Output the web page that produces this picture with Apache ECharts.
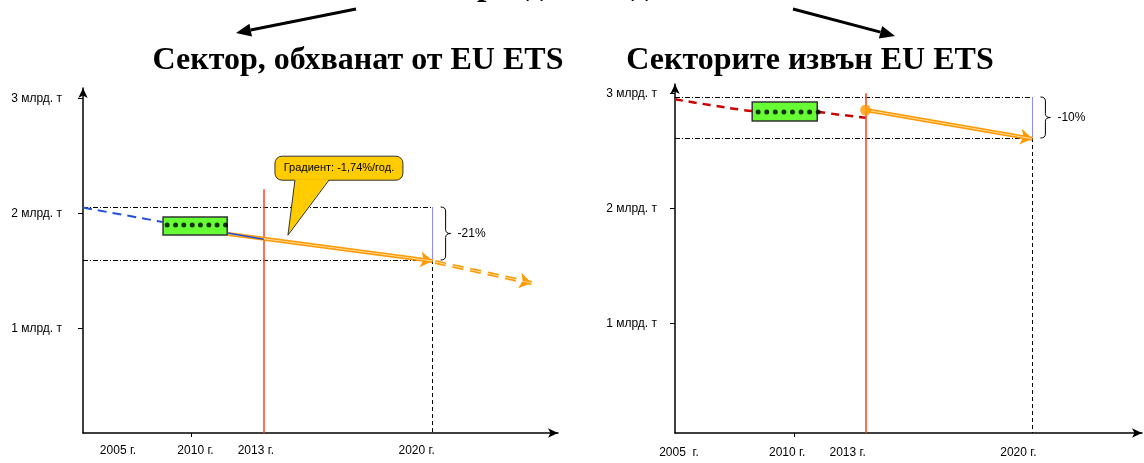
<!DOCTYPE html>
<html>
<head>
<meta charset="utf-8">
<script src="https://cdn.jsdelivr.net/npm/echarts@6/dist/echarts.min.js"></script>
<style>
  html, body { margin: 0; padding: 0; background: #fff; }
  #chart { width: 1144px; height: 463px; }
</style>
</head>
<body>
<div id="chart"></div>
<script>
// ---- данни: сектор EU ETS (ляво), млрд. т / години
const etsHistory = [[2005.5, 2.05], [2008.8, 1.925]];
const etsAfterBox = [[2011.48, 1.83], [2013, 1.775]];
const etsTarget = [[2011.52, 1.82], [2020, 1.586]];
const etsTrend = [[2020.1, 1.577], [2024.1, 1.394]];
const etsBox = [2008.82, 2011.48, 1.968, 1.812];
const etsDots = [2008.99, 2009.34, 2009.68, 2010.03, 2010.37, 2010.72, 2011.06, 2011.41];
const etsDotLevel = 1.899;
const etsLevels = [2.055, 1.594];      // ниво 2005 / цел 2020
const etsRedTop = 2.21;
const etsChange = '-21%';
const etsGradient = 'Градиент: -1,74%/год.';
const etsCallout = [2014, 1.81];

// ---- данни: сектори извън EU ETS (дясно)
const nonEtsHistory = [[2005, 2.947], [2006.47, 2.897], [2007.86, 2.854], [2008.24, 2.845]];
const nonEtsAfterBox = [[2010.97, 2.839], [2011.81, 2.816], [2013, 2.787]];
const nonEtsStart = [2013, 2.854];
const nonEtsTarget = [[2013, 2.854], [2020, 2.605]];
const nonEtsBox = [2008.24, 2010.97, 2.923, 2.758];
const nonEtsDots = [2008.49, 2008.85, 2009.21, 2009.57, 2009.93, 2010.29, 2010.65, 2011.01];
const nonEtsDotLevel = 2.836;
const nonEtsLevels = [2.967, 2.611];
const nonEtsRedTop = 3.0;
const nonEtsChange = '-10%';

// ---- оси
const valueTicks = [1, 2, 3];
const tickYears = [2010];
const etsYears = [2005.5, 2010, 2013, 2020];
const etsYearLabels = ['2005 г.', '2010 г.', '2013 г.', '2020 г.'];
const nonEtsYears = [2005, 2010, 2013, 2020];
const nonEtsYearLabels = ['2005  г.', '2010 г.', '2013 г.', '2020 г.'];

const titles = ['Сектор, обхванат от EU ETS', 'Секторите извън EU ETS'];
const topLead = 'Намалението се ';
const topText = topLead + 'разделя в два';

const chart = echarts.init(document.getElementById('chart'));

const SANS = '"Liberation Sans", Arial, sans-serif';
const SERIF = '"Liberation Serif", "Times New Roman", serif';
const ORANGE = '#ff9900';

// label shifts (px) so the year text sits where the slide had it
const etsShift = [35, 4, -8, -16];
const nonEtsShift = [4, -7, -18, -14];

function richShift(shifts) {
  const r = {};
  shifts.forEach((d, i) => {
    r['s' + i] = { fontSize: 12, fontFamily: SANS, color: '#000',
      padding: d >= 0 ? [0, 0, 0, 2 * d] : [0, -2 * d, 0, 0] };
  });
  return r;
}

function xAxisFor(grid, min, max, years, labels, shifts, margin) {
  return {
    gridIndex: grid, type: 'value', min: min, max: max,
    splitLine: { show: false },
    axisLine: { onZero: false, lineStyle: { color: '#000', width: 1.5 },
      symbol: ['none', 'arrow'], symbolSize: [7, 10] },
    axisTick: { customValues: tickYears, length: 4, lineStyle: { color: '#000' } },
    axisLabel: {
      customValues: years, margin: margin,
      formatter: v => {
        const i = years.findIndex(y => Math.abs(y - v) < 1e-6);
        return i < 0 ? '' : '{s' + i + '|' + labels[i] + '}';
      },
      rich: richShift(shifts)
    }
  };
}

function yAxisFor(grid, min, max, margin) {
  return {
    gridIndex: grid, type: 'value', min: min, max: max,
    splitLine: { show: false },
    axisLine: { onZero: false, lineStyle: { color: '#000', width: 1.5 },
      symbol: ['none', 'arrow'], symbolSize: [7, 10] },
    axisTick: { customValues: valueTicks, length: 5, lineStyle: { color: '#000' } },
    axisLabel: { customValues: valueTicks, margin: margin, color: '#000',
      fontSize: 12, fontFamily: SANS, formatter: v => v + ' млрд. т' }
  };
}

function boxSeries(i, box) {
  return {
    type: 'custom', xAxisIndex: i, yAxisIndex: i, z: 5, silent: true,
    data: [box],
    renderItem: (params, api) => {
      const p0 = api.coord([api.value(0), api.value(2)]);
      const p1 = api.coord([api.value(1), api.value(3)]);
      return { type: 'rect',
        shape: { x: p0[0], y: p0[1], width: p1[0] - p0[0], height: p1[1] - p0[1] },
        style: { fill: '#66ff33', stroke: '#333', lineWidth: 1.5 } };
    }
  };
}

function dotsSeries(i, xs, level) {
  return { type: 'scatter', xAxisIndex: i, yAxisIndex: i, z: 6, silent: true,
    symbolSize: 5, itemStyle: { color: '#000' },
    data: xs.map(x => [x, level]) };
}

function braceSeries(i, year, levels, text) {
  return {
    type: 'custom', xAxisIndex: i, yAxisIndex: i, z: 4, silent: true,
    data: [[year, levels[0], levels[1]]],
    renderItem: (params, api) => {
      const a = api.coord([api.value(0), api.value(1)]);
      const b = api.coord([api.value(0), api.value(2)]);
      const x0 = a[0] + 8, y0 = a[1], y1 = b[1], ym = (y0 + y1) / 2, w = 5;
      const d = `M${x0},${y0} Q${x0 + w},${y0} ${x0 + w},${y0 + 4} L${x0 + w},${ym - 4} ` +
        `Q${x0 + w},${ym} ${x0 + 2 * w},${ym} Q${x0 + w},${ym} ${x0 + w},${ym + 4} ` +
        `L${x0 + w},${y1 - 4} Q${x0 + w},${y1} ${x0},${y1}`;
      return { type: 'group', children: [
        { type: 'path', shape: { pathData: d }, style: { stroke: '#000', fill: null, lineWidth: 1 } },
        { type: 'text', x: x0 + 2 * w + 7, y: ym,
          style: { text: text, fill: '#000', font: '12px ' + SANS, verticalAlign: 'middle' } }
      ] };
    }
  };
}

function guideLines(i, xmin, ymin, levels, redTop) {
  return [
    { type: 'lines', coordinateSystem: 'cartesian2d', xAxisIndex: i, yAxisIndex: i,
      z: 2, silent: true, symbol: 'none',
      lineStyle: { color: '#000', width: 1, opacity: 1, type: [5, 2, 1, 2] },
      data: [{ coords: [[xmin, levels[0]], [2020, levels[0]]] },
             { coords: [[xmin, levels[1]], [2020, levels[1]]] }] },
    { type: 'lines', coordinateSystem: 'cartesian2d', xAxisIndex: i, yAxisIndex: i,
      z: 2, silent: true, symbol: 'none',
      lineStyle: { color: '#000', width: 1, opacity: 1, type: [4, 3] },
      data: [{ coords: [[2020, levels[1]], [2020, ymin]] }] },
    { type: 'lines', coordinateSystem: 'cartesian2d', xAxisIndex: i, yAxisIndex: i,
      z: 2, silent: true, symbol: 'none',
      lineStyle: { color: '#8c8cff', width: 1, opacity: 1 },
      data: [{ coords: [[2020, levels[0]], [2020, levels[1]]] }] },
    { type: 'lines', coordinateSystem: 'cartesian2d', xAxisIndex: i, yAxisIndex: i,
      z: 7, silent: true, symbol: 'none',
      lineStyle: { color: '#ff3d1f', width: 1.5, opacity: 1 },
      data: [{ coords: [[2013, ymin], [2013, redTop]] }] }
  ];
}

function orangeArrow(i, coords, dashed) {
  return [
    { type: 'lines', coordinateSystem: 'cartesian2d', xAxisIndex: i, yAxisIndex: i,
      z: 8, silent: true, symbol: ['none', 'arrow'], symbolSize: 12,
      lineStyle: { color: ORANGE, width: 4, opacity: 1, type: dashed ? [11, 7] : 'solid' },
      data: [{ coords: coords }] },
    { type: 'lines', coordinateSystem: 'cartesian2d', xAxisIndex: i, yAxisIndex: i,
      z: 9, silent: true, symbol: 'none',
      lineStyle: { color: '#ffdca0', width: 1, opacity: 1, type: dashed ? [11, 7] : 'solid' },
      data: [{ coords: coords }] }
  ];
}

function arrowHead(x1, y1, x2, y2, len, half) {
  const dx = x2 - x1, dy = y2 - y1, l = Math.hypot(dx, dy);
  const ux = dx / l, uy = dy / l;
  const bx = x2 - ux * len, by = y2 - uy * len;
  return [
    { type: 'line', shape: { x1: x1, y1: y1, x2: bx, y2: by }, style: { stroke: '#000', lineWidth: 3 } },
    { type: 'polygon', shape: { points: [[x2, y2], [bx - uy * half, by + ux * half], [bx + uy * half, by - ux * half]] },
      style: { fill: '#000' } }
  ];
}

// place the cut-off heading so that its "р" lands where it shows on the slide
const TOP_FONT = 'bold 34px ' + SERIF;
const ctx = document.createElement('canvas').getContext('2d');
ctx.font = TOP_FONT;
const topX = 477 - ctx.measureText(topLead).width;

chart.setOption({
  animation: false,
  backgroundColor: '#fff',
  grid: [
    { left: 83, right: 586, top: 88, bottom: 30 },
    { left: 675, right: 2, top: 84, bottom: 30 }
  ],
  xAxis: [
    xAxisFor(0, 2005.5, 2025.2, etsYears, etsYearLabels, etsShift, 12),
    xAxisFor(1, 2005, 2024.6, nonEtsYears, nonEtsYearLabels, nonEtsShift, 14)
  ],
  yAxis: [yAxisFor(0, 0.09, 3.09, 21), yAxisFor(1, 0.05, 3.08, 18)],
  graphic: [
    { type: 'text', x: topX, y: -14,
      style: { text: topText, font: TOP_FONT, fill: '#000', verticalAlign: 'middle' } },
    { type: 'text', x: 358, y: 61,
      style: { text: titles[0], font: 'bold 32px ' + SERIF, fill: '#000', align: 'center', verticalAlign: 'middle' } },
    { type: 'text', x: 810, y: 61,
      style: { text: titles[1], font: 'bold 32px ' + SERIF, fill: '#000', align: 'center', verticalAlign: 'middle' } },
    ...arrowHead(356, 9, 236, 33, 15, 6.5),
    ...arrowHead(793, 9, 895, 36, 15, 6.5)
  ],
  series: [
    // ляво
    ...guideLines(0, 2005.5, 0.09, etsLevels, etsRedTop),
    { type: 'line', xAxisIndex: 0, yAxisIndex: 0, z: 3, silent: true, symbol: 'none',
      lineStyle: { color: '#2050d8', width: 2, type: [9, 6] }, data: etsHistory },
    { type: 'line', xAxisIndex: 0, yAxisIndex: 0, z: 10, silent: true, symbol: 'none',
      lineStyle: { color: '#2050d8', width: 1.5 }, data: etsAfterBox },
    ...orangeArrow(0, etsTarget, false),
    ...orangeArrow(0, etsTrend, true),
    boxSeries(0, etsBox),
    dotsSeries(0, etsDots, etsDotLevel),
    braceSeries(0, 2020, etsLevels, etsChange),
    {
      type: 'custom', xAxisIndex: 0, yAxisIndex: 0, z: 12, silent: true,
      data: [etsCallout],
      renderItem: (params, api) => {
        const tip = api.coord([api.value(0), api.value(1)]);
        const bx = tip[0] - 13, by = tip[1] - 79, bw = 128, bh = 24;
        return { type: 'group', children: [
          { type: 'rect', shape: { x: bx, y: by, width: bw, height: bh, r: 7 },
            style: { fill: '#ffcc00', stroke: '#333', lineWidth: 1 } },
          { type: 'polygon', shape: { points: [[bx + 20, by + bh - 1], [bx + 54, by + bh - 1], tip] },
            style: { fill: '#ffcc00' } },
          { type: 'polyline', shape: { points: [[bx + 20, by + bh], tip, [bx + 54, by + bh]] },
            style: { stroke: '#333', lineWidth: 1, fill: null } },
          { type: 'text', x: bx + bw / 2, y: by + bh / 2,
            style: { text: etsGradient, fill: '#000', font: '11px ' + SANS, align: 'center', verticalAlign: 'middle' } }
        ] };
      }
    },
    // дясно
    ...guideLines(1, 2005, 0.05, nonEtsLevels, nonEtsRedTop),
    { type: 'line', xAxisIndex: 1, yAxisIndex: 1, z: 3, silent: true, symbol: 'none', smooth: true,
      lineStyle: { color: '#cc0000', width: 2.5, type: [8, 6] }, data: nonEtsHistory },
    { type: 'line', xAxisIndex: 1, yAxisIndex: 1, z: 3, silent: true, symbol: 'none', smooth: true,
      lineStyle: { color: '#cc0000', width: 2.5, type: [8, 6] }, data: nonEtsAfterBox },
    ...orangeArrow(1, nonEtsTarget, false),
    { type: 'scatter', xAxisIndex: 1, yAxisIndex: 1, z: 11, silent: true,
      symbolSize: 11, itemStyle: { color: ORANGE }, data: [nonEtsStart] },
    boxSeries(1, nonEtsBox),
    dotsSeries(1, nonEtsDots, nonEtsDotLevel),
    braceSeries(1, 2020, nonEtsLevels, nonEtsChange)
  ]
});
</script>
</body>
</html>
